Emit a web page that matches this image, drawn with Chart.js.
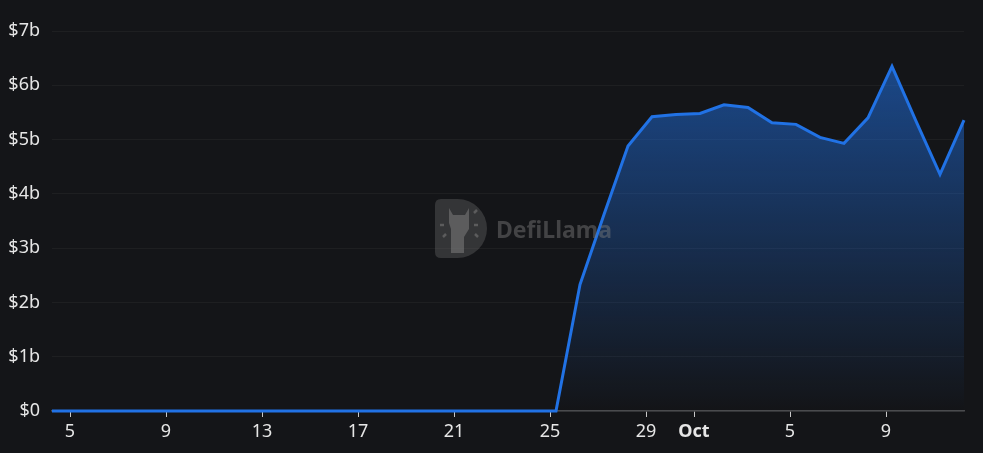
<!DOCTYPE html>
<html>
<head>
<meta charset="utf-8">
<script src="https://cdn.jsdelivr.net/npm/chart.js@4"></script>
<style>
  html, body { margin: 0; padding: 0; background: #141518; }
  #wrap { width: 983px; height: 453px; position: relative; }
</style>
</head>
<body>
<div id="wrap"><canvas id="c" width="983" height="453"></canvas></div>
<script>
// Categories: one daily sample from Sep 4 to Oct 12
const dayLabels = [
  'Sep 4','Sep 5','Sep 6','Sep 7','Sep 8','Sep 9','Sep 10','Sep 11','Sep 12','Sep 13',
  'Sep 14','Sep 15','Sep 16','Sep 17','Sep 18','Sep 19','Sep 20','Sep 21','Sep 22','Sep 23',
  'Sep 24','Sep 25','Sep 26','Sep 27','Sep 28','Sep 29','Sep 30','Oct 1','Oct 2','Oct 3',
  'Oct 4','Oct 5','Oct 6','Oct 7','Oct 8','Oct 9','Oct 10','Oct 11','Oct 12'
];
// TVL in billions of USD
const tvlBillions = [
  0,0,0,0,0,0,0,0,0,0,
  0,0,0,0,0,0,0,0,0,0,
  0,0,2.33,3.62,4.88,5.42,5.46,5.48,5.64,5.59,
  5.31,5.28,5.04,4.93,5.40,6.35,5.34,4.36,5.36
];
// X tick labels (dates at midnight) and their category
const tickDates = ['Sep 5','Sep 9','Sep 13','Sep 17','Sep 21','Sep 25','Sep 29','Oct 1','Oct 5','Oct 9'];
const tickLabels = ['5','9','13','17','21','25','29','Oct','5','9'];
const boldTicks = ['Oct'];
// Y tick values (billions) and labels
const yTickValues = [0,1,2,3,4,5,6,7];
const yTickLabels = ['$0','$1b','$2b','$3b','$4b','$5b','$6b','$7b'];

// Samples are taken a quarter day after midnight
const sampleOffset = 0.25;

const points = tvlBillions.map((v, i) => ({ x: i, y: v }));
const tickPositions = tickDates.map(d => dayLabels.indexOf(d) - sampleOffset);

const watermark = {
  id: 'watermark',
  afterDatasetsDraw(chart) {
    const ctx = chart.ctx;
    ctx.save();
    const cx = 435, cy = 199, w = 52, h = 59;
    // D-shaped badge
    ctx.fillStyle = 'rgba(110,110,110,0.36)';
    ctx.beginPath();
    ctx.moveTo(cx + 6, cy);
    ctx.lineTo(cx + w - h / 2, cy);
    ctx.arc(cx + w - h / 2, cy + h / 2, h / 2, -Math.PI / 2, Math.PI / 2);
    ctx.lineTo(cx + 6, cy + h);
    ctx.quadraticCurveTo(cx, cy + h, cx, cy + h - 6);
    ctx.lineTo(cx, cy + 6);
    ctx.quadraticCurveTo(cx, cy, cx + 6, cy);
    ctx.fill();
    // simple llama silhouette
    ctx.fillStyle = 'rgba(140,140,140,0.45)';
    ctx.beginPath();
    ctx.moveTo(cx + 14, cy + 9);
    ctx.lineTo(cx + 18, cy + 16);
    ctx.lineTo(cx + 30, cy + 16);
    ctx.lineTo(cx + 34, cy + 9);
    ctx.lineTo(cx + 34, cy + 30);
    ctx.lineTo(cx + 29, cy + 38);
    ctx.lineTo(cx + 29, cy + 54);
    ctx.lineTo(cx + 16, cy + 54);
    ctx.lineTo(cx + 16, cy + 30);
    ctx.lineTo(cx + 14, cy + 24);
    ctx.closePath();
    ctx.fill();
    // small rays
    ctx.strokeStyle = 'rgba(140,140,140,0.45)';
    ctx.lineWidth = 2.5;
    [[cx + 5, cy + 26, cx + 9, cy + 26], [cx + 39, cy + 26, cx + 43, cy + 26],
     [cx + 8, cy + 38, cx + 11, cy + 35], [cx + 40, cy + 35, cx + 43, cy + 38],
     [cx + 39, cy + 14, cx + 42, cy + 11]].forEach(s => {
      ctx.beginPath(); ctx.moveTo(s[0], s[1]); ctx.lineTo(s[2], s[3]); ctx.stroke();
    });
    ctx.fillStyle = 'rgba(125,125,125,0.45)';
    ctx.font = 'bold 23px "Noto Sans", sans-serif';
    ctx.textBaseline = 'middle';
    ctx.textAlign = 'left';
    ctx.fillText('DefiLlama', 496, 231);
    ctx.restore();
  }
};

new Chart(document.getElementById('c'), {
  type: 'line',
  data: {
    datasets: [{
      data: points,
      borderColor: '#2172e5',
      borderWidth: 3,
      pointRadius: 0,
      tension: 0,
      clip: false,
      fill: 'origin',
      backgroundColor(context) {
        const chart = context.chart;
        const area = chart.chartArea;
        if (!area) return 'rgba(33,114,229,0.3)';
        const yScale = chart.scales.y;
        const top = yScale.getPixelForValue(Math.max(...tvlBillions));
        const g = chart.ctx.createLinearGradient(0, top, 0, area.bottom);
        g.addColorStop(0, 'rgba(33,114,229,0.55)');
        g.addColorStop(1, 'rgba(33,114,229,0.0)');
        return g;
      }
    }]
  },
  options: {
    responsive: false,
    animation: false,
    events: [],
    layout: { padding: { top: 31, right: 19, left: 0, bottom: 0 } },
    plugins: { legend: { display: false }, tooltip: { enabled: false } },
    scales: {
      x: {
        type: 'linear',
        min: 0,
        max: dayLabels.length - 1,
        afterBuildTicks(scale) {
          scale.ticks = tickPositions.map(v => ({ value: v }));
        },
        afterFit(scale) { scale.height = 42; },
        grid: {
          drawOnChartArea: false,
          drawTicks: true,
          tickLength: 6,
          tickColor: '#c8c8c8',
          tickWidth: 1
        },
        border: { display: true, color: '#4a4b4e', width: 1.5 },
        ticks: {
          autoSkip: false,
          maxRotation: 0,
          padding: 4,
          color: '#e6e6e6',
          font(ctx) {
            const i = ctx.index;
            const bold = i !== undefined && boldTicks.includes(tickLabels[i]);
            return { family: '"Noto Sans", sans-serif', size: 18, weight: bold ? 'bold' : 'normal' };
          },
          callback(value, index) { return tickLabels[index]; }
        }
      },
      y: {
        min: 0,
        max: 7,
        afterBuildTicks(scale) {
          scale.ticks = yTickValues.map(v => ({ value: v }));
        },
        afterFit(scale) { scale.width = 52; },
        grid: {
          color: 'rgba(255,255,255,0.045)',
          drawTicks: false
        },
        border: { display: false },
        ticks: {
          padding: 12,
          color: '#e6e6e6',
          font: { family: '"Noto Sans", sans-serif', size: 18 },
          callback(value, index) { return yTickLabels[index]; }
        }
      }
    }
  },
  plugins: [watermark]
});
</script>
</body>
</html>
